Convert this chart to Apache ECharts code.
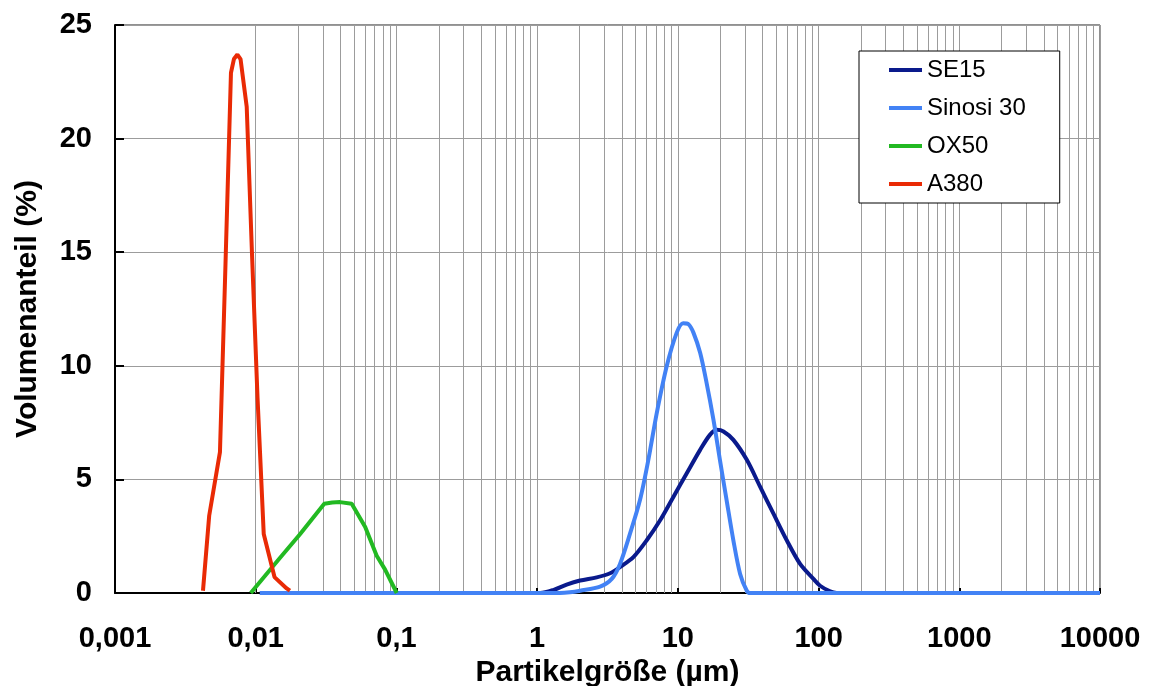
<html>

<head>
    <meta charset="utf-8" />
    <style>
        html, body { margin: 0; padding: 0; background: #fff; }
    </style>
</head>

<body>
    <div id="chart" style="width:1151px;height:686px"></div>
    <script src="https://cdn.jsdelivr.net/npm/echarts@6/dist/echarts.min.js"></script>
    <script>
        // Achsenbeschriftung
        var xTickLabels = ['0,001', '0,01', '0,1', '1', '10', '100', '1000', '10000'];
        var decades = [0.001, 0.01, 0.1, 1, 10, 100, 1000];
        var minorSteps = [2, 3, 4, 5, 6, 7, 8, 9];

        // SE15
        var se15X = [0.0107, 1.05, 1.30, 1.62, 2.02, 2.65, 3.30, 3.88, 4.83, 6.01, 7.48, 9.29, 11.57, 14.4, 16.9, 18.9, 21.1, 24.8, 30.9, 38.4, 47.7, 59.4, 73.9, 91.9, 102.5, 120.8, 134.6, 10000];
        var se15Y = [0, 0, 0.13, 0.37, 0.55, 0.69, 0.87, 1.14, 1.58, 2.32, 3.20, 4.23, 5.27, 6.30, 6.96, 7.18, 7.11, 6.74, 5.86, 4.68, 3.50, 2.32, 1.28, 0.62, 0.32, 0.07, 0, 0];

        // Sinosi 30
        var sinosiX = [0.0107, 1.45, 1.71, 2.02, 2.80, 3.39, 3.88, 4.57, 5.38, 6.17, 7.08, 8.34, 9.82, 10.9, 11.9, 12.9, 14.4, 16.0, 17.9, 19.9, 22.2, 24.8, 27.7, 30.9, 32.6, 10000];
        var sinosiY = [0, 0, 0.03, 0.10, 0.28, 0.62, 1.28, 2.61, 4.09, 5.86, 7.92, 9.99, 11.46, 11.87, 11.83, 11.46, 10.57, 9.25, 7.63, 5.86, 4.09, 2.32, 0.84, 0.10, 0, 0];

        // OX50
        var ox50X = [0.00922, 0.0149, 0.0207, 0.0307, 0.0350, 0.0397, 0.0481, 0.0600, 0.0724, 0.0829, 0.1005];
        var ox50Y = [0, 1.55, 2.6, 3.93, 3.98, 4.0, 3.93, 2.9, 1.64, 1.04, 0];

        // A380
        var a380X = [0.00422, 0.00467, 0.00557, 0.0061, 0.00667, 0.00700, 0.00741, 0.0078, 0.00863, 0.0094, 0.0103, 0.0114, 0.0136, 0.0166, 0.0175];
        var a380Y = [0.1, 3.4, 6.2, 14.5, 22.9, 23.5, 23.7, 23.5, 21.4, 15.0, 8.6, 2.6, 0.7, 0.2, 0.1];

        function pairs(xs, ys) {
            return xs.map(function (x, i) { return [x, ys[i]]; });
        }

        var minorLines = [];
        decades.forEach(function (d) {
            minorSteps.forEach(function (m) { minorLines.push({ xAxis: d * m }); });
        });

        var font = "'Liberation Sans', Arial, sans-serif";
        var chart = echarts.init(document.getElementById('chart'));
        var option = {
            animation: false,
            backgroundColor: '#fff',
            grid: {
                left: 115, right: 51, top: 25, bottom: 93,
                outerBoundsMode: 'none', containLabel: false,
                show: true, borderColor: '#222', borderWidth: 1
            },
            legend: {
                orient: 'vertical',
                left: 859, top: 51, z: 50,
                data: ['SE15', 'Sinosi 30', 'OX50', 'A380'],
                icon: 'rect',
                itemWidth: 33, itemHeight: 4, itemGap: 14,
                padding: [7, 34, 7, 30],
                backgroundColor: '#fff',
                borderColor: '#000', borderWidth: 1,
                textStyle: { fontFamily: font, fontSize: 24, color: '#000', lineHeight: 24 }
            },
            xAxis: {
                type: 'log', logBase: 10, min: 0.001, max: 10000,
                name: 'Partikelgröße (µm)', nameLocation: 'middle', nameGap: 60,
                nameTextStyle: { fontFamily: font, fontSize: 30, fontWeight: 'bold', color: '#000' },
                axisLine: { lineStyle: { color: '#000', width: 2 } },
                axisTick: { inside: true, length: 5, lineStyle: { color: '#000', width: 2 } },
                axisLabel: {
                    margin: 31, fontFamily: font, fontSize: 29, fontWeight: 'bold', color: '#000',
                    formatter: function (v) { return xTickLabels[Math.round(Math.log10(v)) + 3]; }
                },
                splitLine: { show: true, lineStyle: { color: '#9c9c9c', width: 1 } }
            },
            yAxis: {
                type: 'value', min: 0, max: 25, interval: 5,
                name: 'Volumenanteil (%)', nameLocation: 'middle', nameGap: 72, nameRotate: 90,
                nameTextStyle: { fontFamily: font, fontSize: 30, fontWeight: 'bold', color: '#000' },
                axisLine: { show: true, lineStyle: { color: '#000', width: 2 } },
                axisTick: { show: true, inside: true, length: 9, lineStyle: { color: '#000', width: 2 } },
                axisLabel: { margin: 23, fontFamily: font, fontSize: 29, fontWeight: 'bold', color: '#000' },
                splitLine: { show: true, lineStyle: { color: '#9c9c9c', width: 1 } }
            },
            series: [
                {
                    name: 'grid', type: 'line', data: [[0.001, 0]], z: 1,
                    showSymbol: false, silent: true, lineStyle: { opacity: 0 },
                    markLine: {
                        silent: true, symbol: 'none', label: { show: false }, z: 1,
                        lineStyle: { color: '#9c9c9c', width: 1, type: 'solid' },
                        data: minorLines
                    }
                },
                {
                    name: 'SE15', type: 'line', data: pairs(se15X, se15Y), z: 3,
                    showSymbol: false, smooth: 0.3, color: '#0a1a8c',
                    lineStyle: { width: 4, color: '#0a1a8c' }
                },
                {
                    name: 'Sinosi 30', type: 'line', data: pairs(sinosiX, sinosiY), z: 4,
                    showSymbol: false, smooth: 0.3, color: '#4282f5',
                    lineStyle: { width: 4, color: '#4282f5' }
                },
                {
                    name: 'OX50', type: 'line', data: pairs(ox50X, ox50Y), z: 5,
                    showSymbol: false, color: '#22b922',
                    lineStyle: { width: 4, color: '#22b922' }
                },
                {
                    name: 'A380', type: 'line', data: pairs(a380X, a380Y), z: 6,
                    showSymbol: false, color: '#e92a05',
                    lineStyle: { width: 4, color: '#e92a05' }
                }
            ]
        };
        chart.setOption(option);
    </script>
</body>

</html>
